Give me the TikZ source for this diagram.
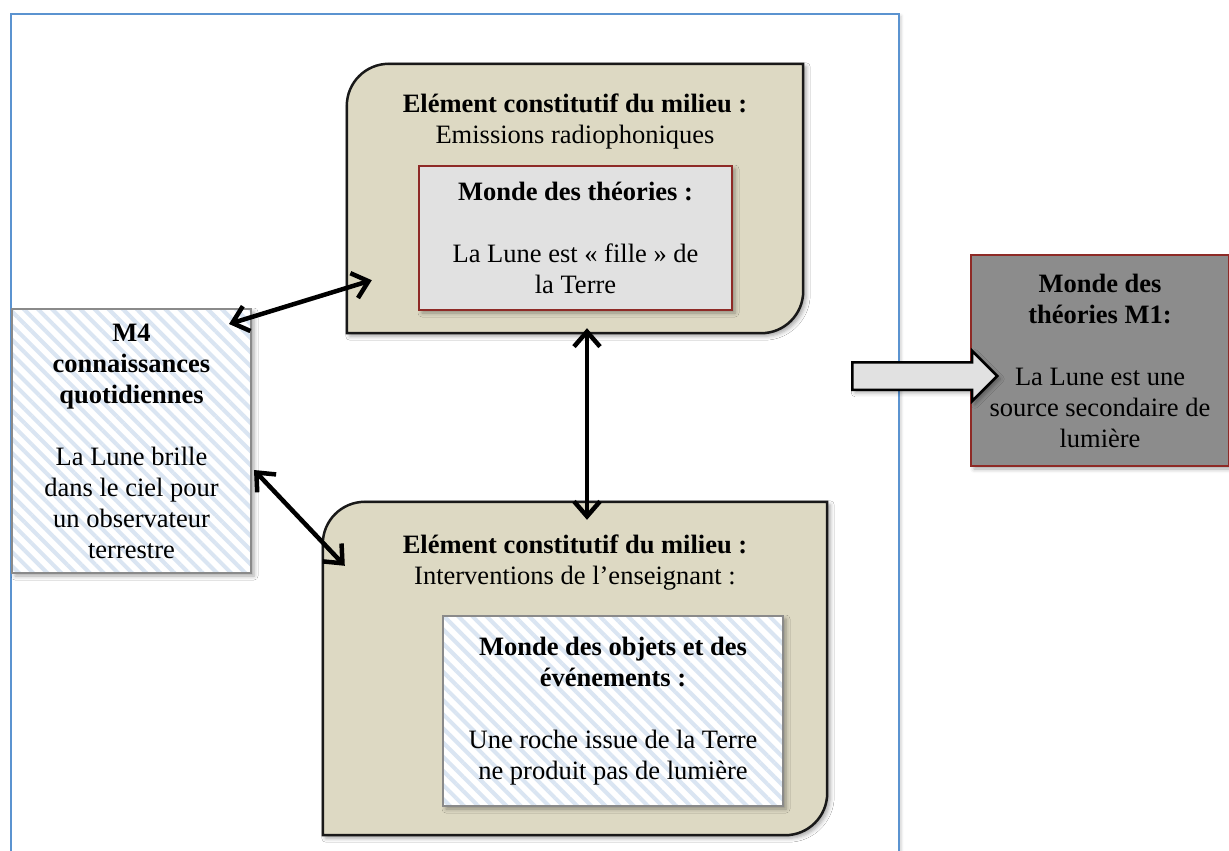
\documentclass[tikz,border=0pt]{standalone}
\usepackage{fontspec}
\setmainfont{Liberation Serif}
\usetikzlibrary{arrows.meta, positioning, shapes.arrows, calc, shadows.blur, patterns.meta}
\definecolor{tan}{HTML}{DDD9C3}
\definecolor{lightgrey}{HTML}{E1E1E1}
\definecolor{midgrey}{HTML}{8C8C8C}
\definecolor{darkred}{HTML}{8E2A26}
\definecolor{frameblue}{HTML}{5B93D0}
\definecolor{stripe}{HTML}{DAE5F2}
\definecolor{edgegrey}{HTML}{8A8A8A}
\tikzset{
  softshadow/.style={blur shadow={shadow xshift=3pt, shadow yshift=-3pt,
                     shadow blur radius=4pt, shadow opacity=35}},
  box/.style={
    rectangle, inner sep=0pt, align=center,
    font=\fontsize{26.5}{31}\selectfont
  },
  tanbox/.style={box, draw=none},
  tanedge/.style={softshadow, fill=tan, draw=black!90, line width=2.5pt},
  greybox/.style={box, softshadow, fill=lightgrey, draw=darkred, line width=2pt},
  darkbox/.style={box, softshadow, fill=midgrey, draw=darkred, line width=2pt},
  hatchbox/.style={box, softshadow, preaction={fill=white},
    pattern={Lines[angle=-45, distance=10pt, line width=4pt]}, pattern color=stripe,
    draw=edgegrey, line width=2pt},
  heading/.style={box},
  frame/.style={draw=frameblue, fill=white, line width=2.5pt,
    blur shadow={shadow xshift=2pt, shadow yshift=-2pt, shadow blur radius=3pt, shadow opacity=20}},
  arrow/.style={{Straight Barb[length=15pt, width=26pt, line width=4.5pt]}-{Straight Barb[length=15pt, width=26pt, line width=4.5pt]},
    line width=4.5pt, draw=black},
  bigarrow/.style={single arrow, softshadow, draw=black, fill=lightgrey, line width=2.5pt,
    inner xsep=0pt, inner ysep=12.5pt, minimum height=145pt, single arrow head extend=11.5pt},
}

\begin{document}
\begin{tikzpicture}[x=1pt, y=1pt]
  \useasboundingbox (0,0) rectangle (1229,-851);

  % cadre
  \draw[frame] (11,-14) rectangle (899,-880);

  % milieux
  \node[tanbox, minimum width=456pt, minimum height=269pt] (milieuA) at (575,-198.5) {};
  \path[tanedge] ([yshift=-42pt]milieuA.north west) arc[start angle=180, end angle=90, radius=42pt]
    -- (milieuA.north east) -- ([yshift=42pt]milieuA.south east)
    arc[start angle=0, end angle=-90, radius=42pt] -- (milieuA.south west) -- cycle;
  \node[tanbox, minimum width=504pt, minimum height=333pt] (milieuB) at (575,-668.5) {};
  \path[tanedge] ([yshift=-42pt]milieuB.north west) arc[start angle=180, end angle=90, radius=42pt]
    -- (milieuB.north east) -- ([yshift=42pt]milieuB.south east)
    arc[start angle=0, end angle=-90, radius=42pt] -- (milieuB.south west) -- cycle;

  \node[heading] (titreA) at (575,-121)
    {\textbf{Elément constitutif du milieu :}\\Emissions radiophoniques};
  \node[heading] (titreB) at (575,-563)
    {\textbf{Elément constitutif du milieu :}\\Interventions de l’enseignant :};

  % mondes
  \node[greybox, minimum width=313pt, minimum height=144pt] (theories) at (575.5,-238)
    {\textbf{Monde des théories :}\\[31pt]La Lune est « fille » de\\la Terre};
  \node[hatchbox, minimum width=340pt, minimum height=190pt] (objets) at (613,-711)
    {\textbf{Monde des objets et des}\\\textbf{événements :}\\[31pt]Une roche issue de la Terre\\ne produit pas de lumière};
  \node[hatchbox, minimum width=239pt, minimum height=264pt] (quotid) at (131.5,-441)
    {\textbf{M4}\\\textbf{connaissances}\\\textbf{quotidiennes}\\[31pt]La Lune brille\\dans le ciel pour\\un observateur\\terrestre};
  \node[darkbox, minimum width=258pt, minimum height=211pt] (mone) at (1100,-360.5)
    {\textbf{Monde des}\\\textbf{théories M1:}\\[31pt]La Lune est une\\source secondaire de\\lumière};

  % fleches
  \draw[arrow] ([shift={(-23,-16)}]quotid.north east) -- ([shift={(25,53)}]milieuA.south west);
  \draw[arrow] ([shift={(2,-29)}]quotid.east) -- ([shift={(22,-64)}]milieuB.north west);
  \draw[arrow] ([shift={(12,5)}]milieuA.south) -- ([shift={(12,-18)}]milieuB.north);
  \node[bigarrow, anchor=tail] (passage) at (851,-376) {};
\end{tikzpicture}
\end{document}
